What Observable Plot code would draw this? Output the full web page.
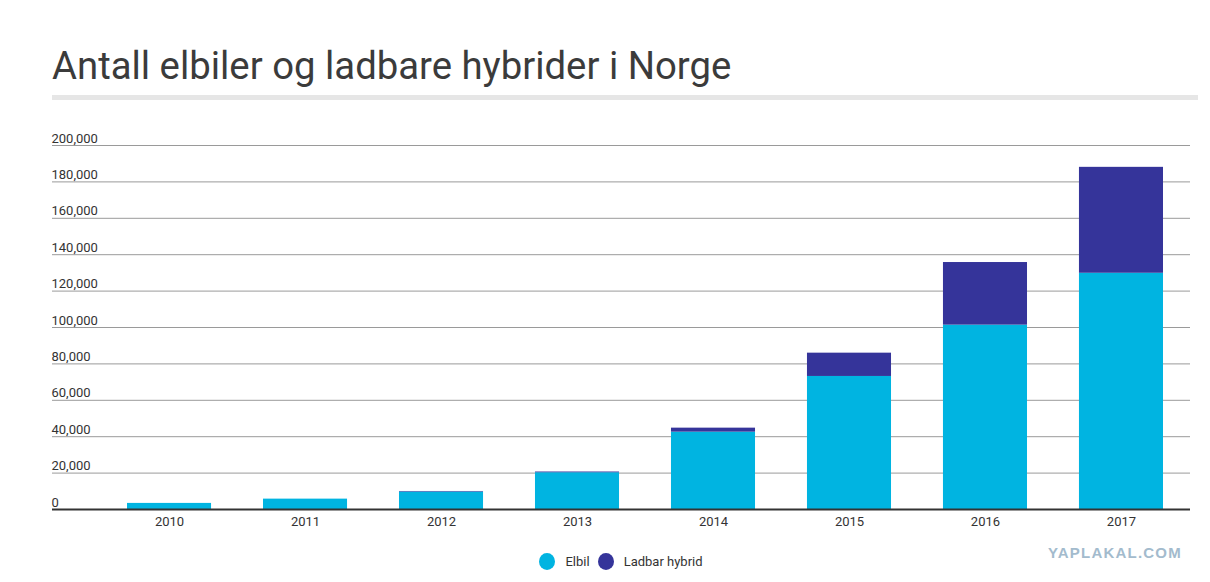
<!DOCTYPE html>
<html>
<head>
<meta charset="utf-8">
<script src="https://cdn.jsdelivr.net/npm/d3@7"></script>
<script src="https://cdn.jsdelivr.net/npm/@observablehq/plot@0.6"></script>
<style>
  html, body { margin: 0; padding: 0; background: #fff; font-family: Roboto, "Open Sans", sans-serif; }
  #wrap { position: relative; width: 1210px; height: 582px; overflow: hidden; }
  #title { position: absolute; left: 52px; top: 42px; font-size: 38.3px; color: #3b3b3b; font-weight: 400; line-height: 48px; white-space: nowrap; }
  #rule { position: absolute; left: 52px; top: 95px; width: 1146px; height: 5px; background: #e6e6e6; }
  #chart { position: absolute; left: 0; top: 110px; }
  #legend { position: absolute; left: 52px; top: 553px; width: 1138px; display: flex; justify-content: center; align-items: center; font-size: 13px; color: #333; }
  .sw { display: inline-block; width: 16px; height: 17px; border-radius: 50%; margin-right: 10px; }
  .item { display: inline-flex; align-items: center; margin: 0 4px; }
  #wm { position: absolute; left: 1048px; top: 544px; font-family: "Liberation Sans", Arial, sans-serif; font-weight: 700; font-size: 15px; color: #a3bbcd; letter-spacing: 1.2px; }
</style>
</head>
<body>
<div id="wrap">
  <div id="title">Antall elbiler og ladbare hybrider i Norge</div>
  <div id="rule"></div>
  <div id="chart"></div>
  <div id="legend"></div>
  <div id="wm">YAPLAKAL.COM</div>
</div>
<script>
const years = ["2010", "2011", "2012", "2013", "2014", "2015", "2016", "2017"];
const elbil = [3350, 5700, 9600, 20200, 42500, 73100, 101300, 129800];
const hybrid = [0, 0, 300, 400, 2200, 12800, 34400, 58200];
const seriesNames = ["Elbil", "Ladbar hybrid"];
const seriesColors = ["#00b4e1", "#35349a"];
const yTicks = [0, 20000, 40000, 60000, 80000, 100000, 120000, 140000, 160000, 180000, 200000];

const rows = [];
years.forEach((yr, i) => {
  rows.push({year: yr, type: seriesNames[0], value: elbil[i]});
  rows.push({year: yr, type: seriesNames[1], value: hybrid[i]});
});

const chart = Plot.plot({
  width: 1210,
  height: 430,
  marginTop: 35,
  marginBottom: 31,
  marginLeft: 52,
  marginRight: 20,
  style: {fontFamily: "Roboto, sans-serif", fontSize: "13px", color: "#333", background: "transparent"},
  x: {domain: years, range: [127, 1163], paddingInner: 0.382, paddingOuter: 0, round: false, label: null},
  y: {domain: [0, 200000], label: null},
  color: {domain: seriesNames, range: seriesColors},
  marks: [
    Plot.ruleY(yTicks.filter(d => d > 0), {stroke: "#9a9a9a", strokeWidth: 1}),
    Plot.barY(rows, {x: "year", y: "value", fill: "type", order: seriesNames}),
    Plot.ruleY([0], {stroke: "#333", strokeWidth: 2}),
    Plot.axisY({ticks: yTicks, tickSize: 0, tickFormat: d3.format(","), textAnchor: "start", dx: 8, dy: -7, fill: "#333", fontSize: 13}),
    Plot.axisX({tickSize: 0, tickPadding: 7, fill: "#333", fontSize: 13})
  ]
});
document.getElementById("chart").appendChild(chart);

const legend = document.getElementById("legend");
seriesNames.forEach((n, i) => {
  const it = document.createElement("span");
  it.className = "item";
  const sw = document.createElement("span");
  sw.className = "sw";
  sw.style.background = seriesColors[i];
  it.appendChild(sw);
  it.appendChild(document.createTextNode(n));
  legend.appendChild(it);
});
</script>
</body>
</html>
